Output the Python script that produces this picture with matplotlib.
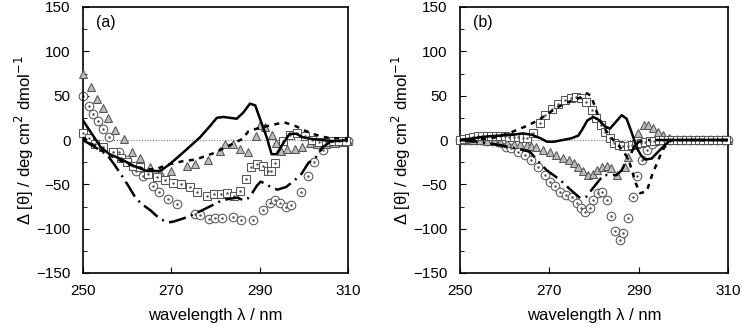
import matplotlib
matplotlib.use("Agg")
import matplotlib.pyplot as plt
import numpy as np

plt.rcParams["font.family"] = ["Liberation Sans", "DejaVu Sans"]

# ---- panel (a) ----
solid_a_x = [250, 252, 254, 256, 258.4, 261.4, 264.5, 267.5, 269.7, 272.7, 276.5, 278.8, 280.3, 281.8,
             283.3, 284.8, 286.3, 287.8, 289, 290, 291.6, 292.7, 293.8, 295.3, 296.8, 298.3, 299.8,
             302, 304, 306, 308, 310]
solid_a_y = [22, 7, -8, -16, -21, -29, -35, -35, -27, -14, 3, 16, 25, 26, 25, 24, 31, 41, 39, 25, 3,
             -16, -16, -4, 7, 7, 3, 1, 0, -1, -1, 0]

dash_a_x = [250, 253, 256, 260, 264, 266.5, 269, 272.5, 275.5, 279.5, 282, 284, 286, 287.5, 289.5,
            292, 295.5, 298, 300, 302, 304, 306, 310]
dash_a_y = [3, -8, -17, -27, -33, -33, -28, -24, -22, -15, -9, -4, 1, 10, 13, 16, 20, 16, 11, 7, 4, 2, 2]

dashdot_a_x = [250, 252, 254, 255.5, 257, 258.5, 260.3, 262, 263.5, 265.2, 267.4, 269.3, 270.5, 273,
               275, 277.5, 279.5, 281.5, 283.5, 285, 286.3, 287.3, 288.3, 289.3, 290.2, 291.2, 292.5,
               294, 296, 298, 299.5, 301, 302.8, 304.3, 306, 308, 310]
dashdot_a_y = [0, -6, -12, -17, -27, -38, -52, -66, -73, -79, -89, -93, -92, -88, -84, -78, -73, -68,
               -66, -65, -68, -66, -60, -52, -47, -49, -53, -56, -53, -45, -38, -26, -19, -8, -2, -1, 0]

tri_a_x = [250, 251.7, 253.2, 254.5, 255.6, 257.3, 259.2, 261, 262.8, 265.2, 267.5, 270, 273.5, 275.4,
           278.4, 281, 282.2, 284, 285.5, 287.4, 289.2, 290.1, 291.2, 292.7, 293.7, 294.8, 296.3, 298,
           299.5, 301.4, 303, 305, 307, 309, 310]
tri_a_y = [74, 60, 46, 36, 25, 11, 1, -13, -20, -30, -36, -35, -29, -27, -22, -12, -4, -4, -10, -13, 4,
           17, 15, 6, -3, -12, -10, -10, -8, -3, -4, -4, -3, -2, -1]

circ_a_x = [250, 251.4, 252.3, 253.5, 254.6, 255.9, 258.2, 260, 262.1, 263.6, 265.8, 267.3, 269.3,
            271.2, 275.4, 276.6, 278.6, 279.9, 281.4, 284, 285.8, 288.4, 290.7, 292.3, 293.5, 294.6,
            296, 297.2, 299.3, 301, 302.3, 304.3, 306, 308, 310]
circ_a_y = [50, 38, 29, 21, 12, 3, -13, -22, -35, -41, -52, -59, -67, -72, -84, -85, -89, -88, -88, -87,
            -90, -90, -79, -71, -68, -71, -75, -73, -59, -41, -25, -11, -3, -2, -1]

sq_a_x = [250.1, 251.4, 252.7, 254.5, 256.7, 258.7, 260, 261.3, 262.9, 264.8, 266.7, 268.5, 270.4,
          272.3, 274.2, 275.9, 278, 279.7, 281.2, 282.5, 284.2, 285.5, 286.9, 288, 289.3, 290.7, 291.9,
          292.6, 293.5, 295.3, 296.9, 298.5, 300.3, 301.8, 303.5, 305, 306.5, 308, 309.5]
sq_a_y = [8, 2, -4.5, -7.5, -14, -20, -25, -29, -30, -38, -42, -45, -48, -50, -53, -59, -63, -61, -61,
          -60, -63, -58, -44, -31, -27, -29, -35, -35, -26, -1, 5.6, 7.5, 4, 0, -2, -2, -1, -1, -1]

# ---- panel (b) ----
solid_b_x = [250, 253, 256, 259, 262, 264, 266, 268, 269.5, 271, 273, 275, 276.5, 277.5, 278.5, 279.8,
             281, 282.5, 283.6, 285, 286.2, 287.3, 288.5, 289.6, 290.5, 291.4, 292.9, 294.4, 295.9,
             297, 300, 305, 310]
solid_b_y = [0, 2, 4, 5, 6, 7.5, 6, 2, -2, -2, 0, 2, 5, 13, 22, 26, 23, 15, 13, 21, 28, 24, 7.5, -9,
             -17, -22, -21, -13, -5.6, 0, 0, 0, 0]

dash_b_x = [250, 255, 258, 261.4, 265, 267.4, 269.5, 271.8, 274.8, 277, 278.4, 279.3, 280.2, 281,
            281.6, 282.5, 283.5, 284.5, 285.4, 286.5, 287.7, 288.5, 289.2, 290.3, 291.8, 292.9, 294.1,
            295.2, 296.3, 297.5, 300, 305, 310]
dash_b_y = [0, 1, 3, 8.6, 16, 22, 29, 37, 44, 48, 52.6, 50, 38, 26, 20, 12, 5, -1, -5.6, -12, -22, -34,
            -47, -60, -58, -41, -26, -13, -4, 0, 0, 0, 0]

dashdot_b_x = [250, 254, 258.9, 262, 265.6, 267.5, 269.4, 272.4, 274.5, 276.9, 278.4, 279.5, 280.6,
               282.1, 283.6, 285.1, 286.2, 287.3, 288.1, 289, 290, 292, 297, 300, 305, 310]
dashdot_b_y = [0, -2, -5.6, -9, -13, -24, -34, -45, -55, -65.5, -63.6, -56, -49, -39.5, -39.5, -39.5,
               -34, -22.5, -17, -8, -2, 0, 0, 0, 0, 0]

tri_b_x = [250, 251.5, 253, 254.5, 256, 257.5, 259, 260.5, 262, 263.5, 265, 266, 267.1, 268.6, 270.1,
           271.6, 273.1, 274.3, 275.5, 276.5, 277.6, 278.7, 279.7, 280.6, 281.7, 282.8, 283.9, 285.1,
           286.9, 287.7, 288.8, 289.9, 291.1, 292.2, 293.3, 294.4, 295.5, 296.7, 298, 299.5, 301,
           302.5, 304, 305.5, 307, 308.5, 310]
tri_b_y = [0, 0, 0, -0.5, -1, -1.5, -2, -3, -4, -5, -6, -7, -8, -11, -14, -16.5, -20.6, -23, -26, -30,
           -35, -39.5, -38, -34, -30, -29, -32, -39.5, -30, -19, -5, 7.5, 17, 17, 13, 9, 5.6, 2, 0.5,
           0, 0, 0, 0, 0, 0, 0, 0]

circ_b_x = [250, 251.2, 252.4, 253.6, 254.8, 256, 257.2, 258.4, 259.3, 260.4, 261.5, 263, 264.5, 266,
            267.5, 269, 270.1, 271.2, 272.4, 273.7, 275, 276.1, 277.2, 278, 279, 279.8, 281, 281.7,
            282.8, 283.9, 284.7, 285.8, 286.6, 287.7, 288.7, 289.7, 290.7, 291.8, 292.9, 294, 295.5,
            297, 298.5, 300, 301.5, 303, 304.5, 306, 307.5, 309, 310]
circ_b_y = [0, 0, 0, -0.5, -0.5, -1, -1.5, -2, -3.5, -7.5, -9, -13, -17, -22.5, -30, -39.5, -47, -52,
            -59, -62, -64, -71, -77, -81, -77, -68, -60, -59, -68, -86, -103, -113, -105, -88, -64, -41,
            -22.5, -11, -4, -1, 0, 0, 0, 0, 0, 0, 0, 0, 0, 0, 0]

sq_b_x = [250, 251, 252, 253, 254, 255, 256, 257, 258, 259, 260, 261, 262, 263, 264, 265, 266.4, 267.9,
          269, 270.5, 272, 273.5, 274.8, 276, 277.2, 278.3, 279.5, 280.5, 281.5, 282.5, 283.5, 284.5,
          285.5, 286.5, 287.5, 288.5, 289.5, 290.5, 291.5, 292.5, 293.5, 294.5, 295.5, 296.5, 297.5,
          298.5, 299.5, 300.5, 301.5, 302.5, 303.5, 304.5, 305.5, 306.5, 307.5, 308.5, 309.5]
sq_b_y = [0, 1, 2, 3, 4, 4, 5, 5, 5, 4, 4, 3, 3, 3, 2, 2, 8, 19, 28, 35, 41, 45, 47, 48, 47, 43, 34,
          25, 17, 9, 2, -3, -6, -7, -6.5, -5.5, -4, -3, -2, -1.5, -1, 0, 0, 0, 0, 0, 0, 0, 0, 0, 0, 0,
          0, 0, 0, 0, 0]

edge = "#555555"


def draw_panel(ax, label, solid, dash, dashdot, tri, circ, sq):
    ax.axhline(0, color="#777777", lw=0.8, ls=(0, (1, 1.5)), zorder=1)

    # markers (open circles/squares with a centre dot, grey triangles)
    mk = dict(ls="none", mew=0.75, mec=edge, clip_on=False)
    ax.plot(*circ, marker="o", ms=6.2, mfc="white", zorder=2, **mk)
    ax.plot(*circ, ls="none", marker=".", ms=1.6, color=edge, zorder=2.1, clip_on=False)
    ax.plot(*tri, marker="^", ms=6.4, mfc="#bcbcbc", zorder=3, **mk)
    ax.plot(*sq, marker="s", ms=5.6, mfc="white", zorder=4, **mk)
    ax.plot(*sq, ls="none", marker=".", ms=1.6, color=edge, zorder=4.1, clip_on=False)

    # lines
    ax.plot(*solid, color="black", lw=1.8, zorder=5)
    ax.plot(*dash, color="black", lw=1.8, ls=(0, (2, 2.2)), zorder=5)
    ax.plot(*dashdot, color="black", lw=1.8, ls=(0, (7, 2.2, 0.8, 2.2)), zorder=5)

    ax.set_xlim(250, 310)
    ax.set_ylim(-150, 150)
    ax.set_xticks([250, 270, 290, 310])
    ax.set_yticks(np.arange(-150, 151, 50))
    ax.set_yticks(np.arange(-150, 151, 25), minor=True)
    ax.tick_params(axis="both", which="both", direction="in", labelsize=11)
    ax.tick_params(axis="x", which="major", length=4, pad=8)
    ax.tick_params(axis="y", which="major", length=4, pad=9)
    ax.tick_params(axis="y", which="minor", length=3)
    for sp in ax.spines.values():
        sp.set_linewidth(1.2)
    ax.set_xlabel("wavelength λ / nm", fontsize=12, labelpad=7)
    ax.set_ylabel("Δ [θ] / deg cm$^2$ dmol$^{-1}$", fontsize=12, labelpad=0)
    ax.text(0.05, 0.94, label, transform=ax.transAxes, fontsize=11.5, va="center", ha="left")


fig = plt.figure(figsize=(7.42, 3.27), dpi=100)
ax_a = fig.add_axes([83 / 742, 1 - 273 / 327, 265 / 742, 266 / 327])
ax_b = fig.add_axes([460 / 742, 1 - 273 / 327, 268 / 742, 266 / 327])

draw_panel(ax_a, "(a)", (solid_a_x, solid_a_y), (dash_a_x, dash_a_y), (dashdot_a_x, dashdot_a_y),
           (tri_a_x, tri_a_y), (circ_a_x, circ_a_y), (sq_a_x, sq_a_y))
draw_panel(ax_b, "(b)", (solid_b_x, solid_b_y), (dash_b_x, dash_b_y), (dashdot_b_x, dashdot_b_y),
           (tri_b_x, tri_b_y), (circ_b_x, circ_b_y), (sq_b_x, sq_b_y))

fig.savefig("out.png", dpi=100)
